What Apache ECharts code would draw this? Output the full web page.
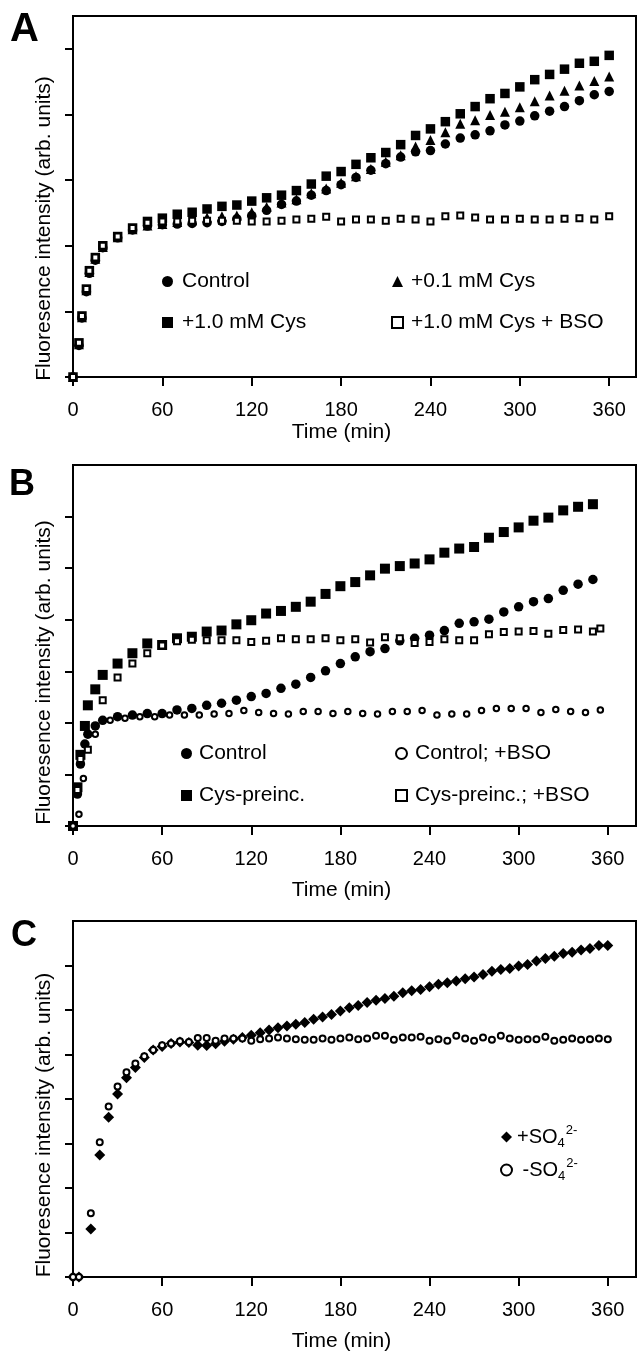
<!DOCTYPE html>
<html>
<head>
<meta charset="utf-8">
<script src="https://cdn.jsdelivr.net/npm/echarts@6.0.0/dist/echarts.min.js"></script>
<style>
  html, body { margin: 0; padding: 0; background: #fff; }
  #chart { width: 638px; height: 1353px; }
</style>
</head>
<body>
<div id="chart"></div>
<script>
// ---- panel A ----
var timeA = [0, 4, 6, 9, 11, 15, 20, 30, 40, 50, 60, 70, 80, 90, 100, 110, 120, 130, 140, 150, 160,
  170, 180, 190, 200, 210, 220, 230, 240, 250, 260, 270, 280, 290, 300, 310, 320, 330, 340, 350, 360];
var controlA = [0, 0.48, 0.90, 1.30, 1.58, 1.78, 1.97, 2.12, 2.24, 2.30, 2.32, 2.33, 2.34, 2.35, 2.37, 2.41,
  2.46, 2.54, 2.63, 2.68, 2.77, 2.84, 2.93, 3.04, 3.15, 3.25, 3.35, 3.43, 3.45, 3.55, 3.64, 3.69, 3.75,
  3.84, 3.90, 3.98, 4.05, 4.12, 4.21, 4.30, 4.35];
var cys01A = [0, 0.50, 0.91, 1.32, 1.60, 1.80, 1.98, 2.13, 2.25, 2.31, 2.33, 2.36, 2.39, 2.43, 2.45, 2.46,
  2.51, 2.59, 2.66, 2.71, 2.80, 2.87, 2.96, 3.06, 3.17, 3.28, 3.38, 3.51, 3.61, 3.73, 3.86, 3.91, 3.99,
  4.04, 4.11, 4.20, 4.29, 4.36, 4.44, 4.51, 4.58];
var cys10A = [0, 0.52, 0.93, 1.34, 1.62, 1.82, 2.00, 2.14, 2.27, 2.37, 2.42, 2.48, 2.51, 2.56, 2.60, 2.62,
  2.68, 2.73, 2.77, 2.84, 2.94, 3.06, 3.13, 3.24, 3.34, 3.42, 3.54, 3.68, 3.78, 3.89, 4.01, 4.12, 4.24,
  4.32, 4.42, 4.53, 4.61, 4.69, 4.78, 4.81, 4.90];
var cys10BsoA = [0, 0.52, 0.93, 1.34, 1.62, 1.82, 2.00, 2.14, 2.27, 2.35, 2.37, 2.37, 2.38, 2.38, 2.38, 2.38,
  2.37, 2.37, 2.38, 2.40, 2.41, 2.44, 2.37, 2.40, 2.40, 2.38, 2.41, 2.40, 2.37, 2.45, 2.46, 2.43, 2.40,
  2.40, 2.41, 2.40, 2.40, 2.41, 2.42, 2.40, 2.45];

// ---- panel B ----
var timeB = [0, 3, 5, 8, 10, 15, 20, 30, 40, 50, 60, 70, 80, 90, 100, 110, 120, 130, 140, 150, 160,
  170, 180, 190, 200, 210, 220, 230, 240, 250, 260, 270, 280, 290, 300, 310, 320, 330, 340, 350];
var controlB = [0, 0.62, 1.20, 1.59, 1.78, 1.94, 2.05, 2.12, 2.15, 2.18, 2.18, 2.25, 2.28, 2.34, 2.38, 2.44,
  2.51, 2.57, 2.67, 2.75, 2.88, 3.01, 3.15, 3.28, 3.38, 3.44, 3.59, 3.64, 3.70, 3.79, 3.93, 3.96, 4.01,
  4.15, 4.25, 4.35, 4.41, 4.57, 4.69, 4.78];
var cysPreB = [0, 0.75, 1.38, 1.94, 2.34, 2.65, 2.93, 3.15, 3.35, 3.54, 3.51, 3.64, 3.67, 3.77, 3.79, 3.91,
  3.99, 4.12, 4.17, 4.25, 4.35, 4.50, 4.65, 4.73, 4.86, 4.99, 5.04, 5.09, 5.17, 5.30, 5.38, 5.41, 5.59,
  5.70, 5.79, 5.92, 5.98, 6.12, 6.19, 6.24];
var timeBsoCysB = [0, 3, 5, 10, 20, 30, 40, 50, 60, 70, 80, 90, 100, 110, 120, 130, 140, 150, 160, 170,
  180, 190, 200, 210, 220, 230, 240, 250, 260, 270, 280, 290, 300, 310, 320, 330, 340, 350, 355];
var cysPreBsoB = [0, 0.70, 1.30, 1.48, 2.44, 2.88, 3.15, 3.35, 3.50, 3.58, 3.61, 3.60, 3.60, 3.60, 3.57,
  3.59, 3.64, 3.62, 3.62, 3.64, 3.60, 3.62, 3.56, 3.66, 3.64, 3.55, 3.57, 3.62, 3.60, 3.60, 3.72, 3.76,
  3.77, 3.78, 3.73, 3.80, 3.81, 3.77, 3.83];
var timeBsoCtrlB = [0, 4, 7, 15, 25, 35, 45, 55, 65, 75, 85, 95, 105, 115, 125, 135, 145, 155, 165, 175,
  185, 195, 205, 215, 225, 235, 245, 255, 265, 275, 285, 295, 305, 315, 325, 335, 345, 355];
var controlBsoB = [0, 0.23, 0.92, 1.78, 2.05, 2.09, 2.12, 2.12, 2.15, 2.15, 2.15, 2.17, 2.18, 2.24, 2.20,
  2.18, 2.17, 2.22, 2.22, 2.18, 2.22, 2.18, 2.17, 2.22, 2.22, 2.24, 2.15, 2.17, 2.17, 2.24, 2.28, 2.28,
  2.28, 2.20, 2.26, 2.22, 2.20, 2.25];

// ---- panel C ----
var timeC = [0, 4, 12, 18, 24, 30, 36, 42, 48, 54, 60, 66, 72, 78, 84, 90, 96, 102, 108, 114, 120, 126,
  132, 138, 144, 150, 156, 162, 168, 174, 180, 186, 192, 198, 204, 210, 216, 222, 228, 234, 240, 246,
  252, 258, 264, 270, 276, 282, 288, 294, 300, 306, 312, 318, 324, 330, 336, 342, 348, 354, 360];
var plusSO4 = [0, 0, 1.08, 2.74, 3.59, 4.11, 4.48, 4.71, 4.93, 5.10, 5.18, 5.25, 5.28, 5.27, 5.21, 5.20,
  5.24, 5.30, 5.34, 5.38, 5.43, 5.49, 5.55, 5.60, 5.64, 5.68, 5.72, 5.79, 5.84, 5.90, 5.98, 6.05, 6.10,
  6.17, 6.22, 6.26, 6.31, 6.39, 6.43, 6.46, 6.52, 6.58, 6.61, 6.65, 6.70, 6.74, 6.80, 6.87, 6.91, 6.93,
  6.99, 7.02, 7.10, 7.16, 7.21, 7.27, 7.30, 7.35, 7.38, 7.45, 7.45];
var minusSO4 = [0, 0, 1.43, 3.03, 3.83, 4.28, 4.60, 4.80, 4.96, 5.10, 5.21, 5.25, 5.30, 5.28, 5.37, 5.37,
  5.31, 5.36, 5.36, 5.36, 5.31, 5.34, 5.36, 5.38, 5.36, 5.34, 5.33, 5.33, 5.36, 5.33, 5.36, 5.38, 5.34,
  5.36, 5.42, 5.42, 5.33, 5.38, 5.38, 5.40, 5.31, 5.34, 5.31, 5.42, 5.36, 5.31, 5.38, 5.33, 5.42, 5.36,
  5.33, 5.34, 5.34, 5.40, 5.31, 5.33, 5.36, 5.33, 5.34, 5.36, 5.34];

var xTicks = [0, 60, 120, 180, 240, 300, 360];
var yTicksA = [0, 1, 2, 3, 4, 5];
var yTicksB = [0, 1, 2, 3, 4, 5, 6];
var yTicksC = [0, 1, 2, 3, 4, 5, 6, 7];

var font = '"Liberation Sans", Arial, Helvetica, sans-serif';
var yName = 'Fluoresence intensity (arb. units)';

function pairs(t, v) {
  return t.map(function (x, i) { return [x, v[i]]; });
}

function xAxis(grid, max, gap) {
  return {
    type: 'value', gridIndex: grid, min: 0, max: max, interval: 60,
    splitLine: { show: false },
    axisLine: { onZero: false, lineStyle: { color: '#000', width: 2 } },
    axisTick: { length: 9, customValues: xTicks, lineStyle: { color: '#000', width: 2 } },
    axisLabel: { customValues: xTicks, margin: 23, fontSize: 20, color: '#000', fontFamily: font },
    name: 'Time (min)', nameLocation: 'middle', nameGap: gap,
    nameTextStyle: { fontSize: 21, color: '#000', fontFamily: font, padding: [0, 26, 0, 0] }
  };
}

function yAxis(grid, max, ticks, shift) {
  return {
    type: 'value', gridIndex: grid, min: 0, max: max, interval: 1,
    splitLine: { show: false },
    axisLine: { onZero: false, lineStyle: { color: '#000', width: 2 } },
    axisTick: { length: 8, customValues: ticks, lineStyle: { color: '#000', width: 2 } },
    axisLabel: { show: false },
    name: yName, nameLocation: 'middle', nameGap: 18,
    nameTextStyle: { fontSize: 21, color: '#000', fontFamily: font, padding: [0, shift, 0, 0] }
  };
}

function filled(name, idx, symbol, size, data, z) {
  return {
    type: 'scatter', name: name, xAxisIndex: idx, yAxisIndex: idx,
    symbol: symbol, symbolSize: size, data: data, z: z,
    itemStyle: { color: '#000', opacity: 1 }
  };
}

function hollow(name, idx, symbol, size, data, z) {
  return {
    type: 'scatter', name: name, xAxisIndex: idx, yAxisIndex: idx,
    symbol: symbol, symbolSize: size, data: data, z: z,
    itemStyle: { color: '#fff', borderColor: '#000', borderWidth: 2, opacity: 1 }
  };
}

function legend(left, top, names, gap, pad) {
  return {
    left: left, top: top, orient: 'vertical', padding: 0,
    itemWidth: 11, itemHeight: 11, itemGap: gap, selectedMode: false,
    data: names,
    textStyle: { fontSize: 21, color: '#000', fontFamily: font, padding: [0, 0, 0, pad] }
  };
}

var chart = echarts.init(document.getElementById('chart'), null, { renderer: 'canvas' });

chart.setOption({
  animation: false,
  backgroundColor: '#fff',
  grid: [
    { left: 73, top: 16, width: 563, height: 361, show: true, borderColor: '#000', borderWidth: 2 },
    { left: 73, top: 465, width: 563, height: 361, show: true, borderColor: '#000', borderWidth: 2 },
    { left: 73, top: 921, width: 563, height: 357, show: true, borderColor: '#000', borderWidth: 2 }
  ],
  xAxis: [xAxis(0, 378, 45), xAxis(1, 379, 54), xAxis(2, 379, 54)],
  yAxis: [yAxis(0, 5.5, yTicksA, 64), yAxis(1, 7, yTicksB, 54), yAxis(2, 8, yTicksC, 52)],
  legend: [
    legend(162, 271, ['Control', '+1.0 mM Cys'], 20, 4),
    legend(391, 271, ['+0.1 mM Cys', '+1.0 mM Cys + BSO'], 20, 3),
    legend(181, 743, ['Control', 'Cys-preinc.'], 21, 2),
    legend(395, 743, ['Control; +BSO', 'Cys-preinc.; +BSO'], 21, 3),
    {
      left: 500, top: 1124, orient: 'vertical', padding: 0,
      itemWidth: 11, itemHeight: 11, itemGap: 7, selectedMode: false,
      data: ['+SO₄²⁻', '-SO₄²⁻'],
      formatter: function (name) {
        return name.charAt(0) === '+' ? '{m|+SO}{sub|4}{sup|2-}' : '{m| -SO}{sub|4}{sup|2-}';
      },
      textStyle: {
        color: '#000', fontFamily: font,
        rich: {
          m: { fontSize: 20, lineHeight: 26, color: '#000', fontFamily: font },
          sub: { fontSize: 13, lineHeight: 13, verticalAlign: 'bottom', color: '#000', fontFamily: font },
          sup: { fontSize: 13, lineHeight: 13, verticalAlign: 'top', color: '#000', fontFamily: font, padding: [0, 0, 0, 1] }
        }
      }
    }
  ],
  graphic: [
    { type: 'text', x: 10, y: 30, style: { text: 'A', font: 'bold 40px ' + font, fill: '#000', textVerticalAlign: 'middle' } },
    { type: 'text', x: 9, y: 485, style: { text: 'B', font: 'bold 36px ' + font, fill: '#000', textVerticalAlign: 'middle' } },
    { type: 'text', x: 11, y: 936, style: { text: 'C', font: 'bold 36px ' + font, fill: '#000', textVerticalAlign: 'middle' } }
  ],
  series: [
    filled('+1.0 mM Cys', 0, 'rect', 9.5, pairs(timeA, cys10A), 2),
    filled('+0.1 mM Cys', 0, 'triangle', 10, pairs(timeA, cys01A), 3),
    filled('Control', 0, 'circle', 9.5, pairs(timeA, controlA), 4),
    hollow('+1.0 mM Cys + BSO', 0, 'rect', 6, pairs(timeA, cys10BsoA), 5),

    filled('Cys-preinc.', 1, 'rect', 10, pairs(timeB, cysPreB), 2),
    filled('Control', 1, 'circle', 9.5, pairs(timeB, controlB), 3),
    hollow('Cys-preinc.; +BSO', 1, 'rect', 6, pairs(timeBsoCysB, cysPreBsoB), 4),
    hollow('Control; +BSO', 1, 'circle', 5.5, pairs(timeBsoCtrlB, controlBsoB), 5),

    filled('+SO₄²⁻', 2, 'diamond', 11, pairs(timeC, plusSO4), 2),
    hollow('-SO₄²⁻', 2, 'circle', 6, pairs(timeC, minusSO4), 3)
  ]
});
</script>
</body>
</html>
